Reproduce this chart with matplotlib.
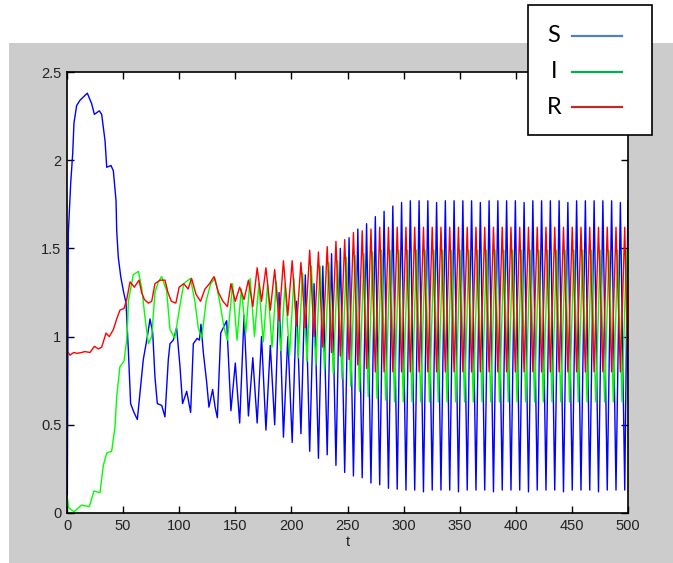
import matplotlib
matplotlib.use("Agg")
import matplotlib.pyplot as plt
from matplotlib.patches import Rectangle
from matplotlib.lines import Line2D

# --- data ------------------------------------------------------------------
# early transient (t < 146), each series has its own turning points
s_t = [0, 0.3, 1.2, 3.3, 5.1, 6.2, 8.6, 11.6, 18.1, 22, 24.4, 28.8, 30.9, 33.9,
       35.4, 39.2, 41.3, 43.7, 44.3, 45.7, 47.9, 50.2, 52.6, 54.7, 56.7, 59.7,
       62.7, 65, 68, 71.6, 74, 76.4, 78.4, 80.5, 84.4, 87.3, 90.3, 91.8, 94.7,
       97.7, 100.7, 103, 106.7, 110.2, 112.6, 116, 118, 119.4, 121.5, 124.5,
       126.5, 129.8, 132, 134, 137, 142.3]
s_v = [0.8, 0.1, 1.59, 1.87, 2.04, 2.21, 2.31, 2.34, 2.38, 2.32, 2.26, 2.28, 2.26, 2.11,
       1.96, 1.97, 1.94, 1.77, 1.60, 1.45, 1.34, 1.26, 1.19, 0.92, 0.62, 0.57,
       0.53, 0.68, 0.87, 1.0, 1.1, 1.02, 0.77, 0.62, 0.61, 0.545, 0.87, 0.96, 0.98,
       1.05, 0.83, 0.62, 0.69, 0.57, 0.96, 0.99, 0.98, 1.07, 0.91, 0.74,
       0.6, 0.7, 0.6, 0.54, 1.02, 1.09]

i_t = [0, 1.5, 6.2, 13, 19.9, 24, 29.4, 32.4, 35.4, 39.8, 42.8, 44.3, 47.2, 50.8,
       53.2, 54.1, 54.7, 59, 63.6, 66.5, 69.5, 72.5, 75.5, 78.4, 81.4, 84.4, 88.8,
       91.8, 96, 100, 104, 110, 114, 117, 120, 124, 128, 132, 136, 140, 143]
i_v = [0.1, 0.03, 0.007, 0.045, 0.036, 0.125, 0.115, 0.27, 0.34, 0.35, 0.49, 0.66, 0.83, 0.86,
       0.98, 1.09, 1.2, 1.35, 1.37, 1.28, 1.11, 0.96, 1.0, 1.25, 1.31, 1.34, 1.26,
       1.04, 0.99, 1.15, 1.3, 1.33, 1.2, 1.05, 0.99, 1.2, 1.3, 1.33, 1.2, 1.05, 0.98]

r_t = [0, 2.7, 6, 9, 13, 16, 20.5, 24.4, 27.9, 30.9, 34.8, 37.7, 41.3, 44.3, 47.2,
       50.8, 53.2, 56.2, 60, 64.2, 66.5, 69, 72.5, 75.5, 78.4, 82.9, 87.3, 90, 93,
       97, 100, 104, 108, 111, 115, 119, 123, 127, 131, 135, 139, 143]
r_v = [0.92, 0.895, 0.91, 0.905, 0.91, 0.915, 0.91, 0.945, 0.93, 0.94, 1.02, 1.0, 1.04, 1.1, 1.15,
       1.16, 1.21, 1.31, 1.28, 1.32, 1.25, 1.21, 1.19, 1.2, 1.30, 1.32, 1.32, 1.25, 1.2,
       1.19, 1.28, 1.3, 1.27, 1.33, 1.24, 1.2, 1.27, 1.3, 1.34, 1.25, 1.2, 1.17]

# oscillating regime: turning times (S troughs line up with R peaks)
t_osc = [146.1, 150.0, 153.9, 157.8, 161.7, 165.6, 169.5, 173.4, 177.3, 181.2,
         185.1, 189.0, 192.9, 196.8, 200.7, 204.6, 208.5, 212.4, 216.3, 220.2,
         224.1, 228.0, 231.9, 235.8, 239.7, 243.6, 247.5, 251.4, 255.3, 259.2,
         263.1, 267.0, 270.9, 274.8, 278.7, 282.6, 286.5, 290.4, 294.3, 298.2,
         302.1, 306.0, 309.9, 313.8, 317.7, 321.6, 325.5, 329.4, 333.3, 337.2,
         341.1, 345.0, 348.9, 352.8, 356.7, 360.6, 364.5, 368.4, 372.3, 376.2,
         380.1, 384.0, 387.9, 391.8, 395.7, 399.6, 403.5, 407.4, 411.3, 415.2,
         419.1, 423.0, 426.9, 430.8, 434.7, 438.6, 442.5, 446.4, 450.3, 454.2,
         458.1, 462.0, 465.9, 469.8, 473.7, 477.6, 481.5, 485.4, 489.3, 493.2,
         497.1, 500.0]
# I turns a little later than R
t_osc_i = [147.6, 151.5, 155.4, 159.3, 163.2, 167.1, 171.0, 174.9, 178.8, 182.7,
           186.6, 190.5, 194.4, 198.3, 202.2, 206.1, 210.0, 213.9, 217.8, 221.7,
           225.6, 229.5, 233.4, 237.3, 241.2, 245.1, 249.0, 252.9, 256.8, 260.7,
           264.6, 268.5, 272.4, 276.3, 280.2, 284.1, 288.0, 291.9, 295.8, 299.7,
           303.6, 307.5, 311.4, 315.3, 319.2, 323.1, 327.0, 330.9, 334.8, 338.7,
           342.6, 346.5, 350.4, 354.3, 358.2, 362.1, 366.0, 369.9, 373.8, 377.7,
           381.6, 385.5, 389.4, 393.3, 397.2, 401.1, 405.0, 408.9, 412.8, 416.7,
           420.6, 424.5, 428.4, 432.3, 436.2, 440.1, 444.0, 447.9, 451.8, 455.7,
           459.6, 463.5, 467.4, 471.3, 475.2, 479.1, 483.0, 486.9, 490.8, 494.7,
           498.6, 500.0]
s_osc = [0.58, 0.85, 0.51, 1.12, 0.55, 0.88, 0.51, 1.0, 0.47, 0.95,
         0.50, 1.25, 0.43, 1.0, 0.40, 1.2, 0.45, 1.35, 0.35, 1.3,
         0.31, 1.4, 0.33, 1.47, 0.27, 1.5, 0.23, 1.56, 0.21, 1.61,
         0.20, 1.64, 0.17, 1.68, 0.16, 1.71, 0.14, 1.74, 0.135, 1.76,
         0.13, 1.77, 0.13, 1.77, 0.12, 1.77, 0.13, 1.76, 0.13, 1.77,
         0.13, 1.77, 0.12, 1.77, 0.13, 1.77, 0.13, 1.76, 0.13, 1.77,
         0.12, 1.77, 0.13, 1.77, 0.13, 1.77, 0.13, 1.76, 0.12, 1.77,
         0.13, 1.77, 0.13, 1.77, 0.13, 1.77, 0.12, 1.76, 0.13, 1.77,
         0.13, 1.77, 0.13, 1.77, 0.12, 1.77, 0.13, 1.77, 0.13, 1.76,
         0.13, 1.77]
i_osc = [1.30, 0.98, 1.27, 1.02, 1.33, 1.0, 1.30, 0.97, 1.30, 0.94,
         1.31, 0.92, 1.30, 0.89, 1.33, 0.88, 1.36, 0.86, 1.40, 0.84,
         1.40, 0.81, 1.42, 0.79, 1.43, 0.76, 1.45, 0.72, 1.46, 0.69,
         1.47, 0.66, 1.48, 0.65, 1.49, 0.64, 1.49, 0.63, 1.49, 0.63,
         1.49, 0.63, 1.49, 0.63, 1.49, 0.63, 1.49, 0.63, 1.49, 0.63,
         1.49, 0.63, 1.49, 0.63, 1.49, 0.63, 1.49, 0.63, 1.49, 0.63,
         1.49, 0.63, 1.49, 0.63, 1.49, 0.63, 1.49, 0.63, 1.49, 0.63,
         1.49, 0.63, 1.49, 0.63, 1.49, 0.63, 1.49, 0.63, 1.49, 0.63,
         1.49, 0.63, 1.49, 0.63, 1.49, 0.63, 1.49, 0.63, 1.49, 0.63,
         1.49, 0.63]
r_osc = [1.30, 1.20, 1.28, 1.21, 1.32, 1.17, 1.39, 1.20, 1.39, 1.15,
         1.38, 1.09, 1.43, 1.12, 1.43, 1.06, 1.42, 1.05, 1.49, 1.0,
         1.48, 0.94, 1.51, 0.91, 1.54, 0.89, 1.55, 0.87, 1.59, 0.84,
         1.60, 0.82, 1.61, 0.80, 1.62, 0.80, 1.62, 0.80, 1.62, 0.80,
         1.62, 0.80, 1.62, 0.80, 1.62, 0.80, 1.62, 0.80, 1.62, 0.80,
         1.62, 0.80, 1.62, 0.80, 1.62, 0.80, 1.62, 0.80, 1.62, 0.80,
         1.62, 0.80, 1.62, 0.80, 1.62, 0.80, 1.62, 0.80, 1.62, 0.80,
         1.62, 0.80, 1.62, 0.80, 1.62, 0.80, 1.62, 0.80, 1.62, 0.80,
         1.62, 0.80, 1.62, 0.80, 1.62, 0.80, 1.62, 0.80, 1.62, 0.80,
         1.62, 0.80]

x_ticks = [0, 50, 100, 150, 200, 250, 300, 350, 400, 450, 500]
y_ticks = [0, 0.5, 1, 1.5, 2, 2.5]
y_tick_labels = ['0', '0.5', '1', '1.5', '2', '2.5']
legend_labels = ['S', 'I', 'R']
legend_colors = ['#4f81bd', '#00b050', '#c0282d']

# --- figure ---------------------------------------------------------------
plt.rcParams['font.family'] = ['Liberation Sans', 'DejaVu Sans']
fig = plt.figure(figsize=(6.73, 5.63), dpi=100)
fig.patch.set_facecolor('white')

# grey MATLAB figure background (behind the axes)
fig.patches.append(Rectangle((9 / 673, 0), 1, 1 - 43 / 563, transform=fig.transFigure,
                             facecolor='#cccccc', edgecolor='none', zorder=-10))

ax = fig.add_axes([67 / 673, 1 - 513 / 563, 561 / 673, 441 / 563])
ax.set_facecolor('white')

ax.plot(s_t + t_osc, s_v + s_osc, color='#0000ff', lw=1.0)
ax.plot(i_t + t_osc_i, i_v + i_osc, color='#00ff00', lw=1.0)
ax.plot(r_t + t_osc, r_v + r_osc, color='#ff0000', lw=1.0)

ax.set_xlim(0, 500)
ax.set_ylim(0, 2.5)
ax.set_xticks(x_ticks)
ax.set_yticks(y_ticks)
ax.set_yticklabels(y_tick_labels)
ax.tick_params(direction='in', top=True, right=True, length=5, width=1,
               labelsize=10.5, labelcolor='#222222', pad=4)
for sp in ax.spines.values():
    sp.set_linewidth(1.2)
ax.set_xlabel('t', fontsize=10.5, color='#222222', labelpad=2)

# pasted legend box
fig.patches.append(Rectangle((528 / 673, 1 - 135 / 563), 124 / 673, 130 / 563,
                             transform=fig.transFigure, facecolor='white',
                             edgecolor='black', lw=1.2, zorder=5))
for k, (lab, col) in enumerate(zip(legend_labels, legend_colors)):
    yc = 1 - (36 + 35.5 * k) / 563
    fig.text(554 / 673, yc, lab, family=['Lato', 'DejaVu Sans'], fontsize=17,
             ha='center', va='center', zorder=6)
    fig.lines.append(Line2D([572 / 673, 622 / 673], [yc, yc], transform=fig.transFigure,
                            color=col, lw=1.6, zorder=6))

fig.savefig('out.png', dpi=100)
